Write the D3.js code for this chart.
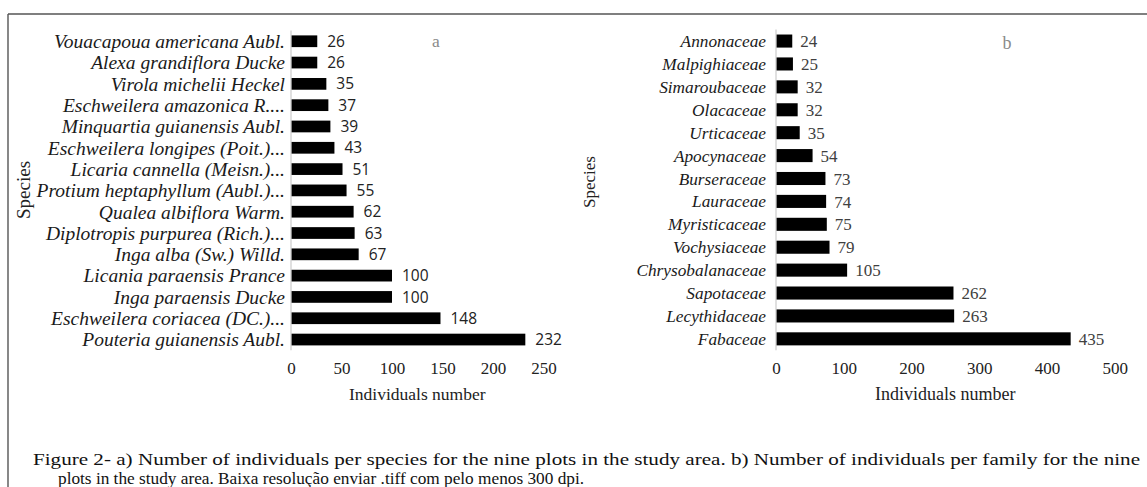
<!DOCTYPE html>
<html><head><meta charset="utf-8">
<script src="https://cdn.jsdelivr.net/npm/d3@7"></script>
<style>html,body{margin:0;padding:0;background:#fff;}svg{display:block;}</style>
</head><body>
<svg id="c" width="1147" height="487"></svg>
<script>
const speciesNames = ["Vouacapoua americana Aubl.","Alexa grandiflora Ducke","Virola michelii Heckel","Eschweilera amazonica R....","Minquartia guianensis Aubl.","Eschweilera longipes (Poit.)...","Licaria cannella (Meisn.)...","Protium heptaphyllum (Aubl.)...","Qualea albiflora Warm.","Diplotropis purpurea (Rich.)...","Inga alba (Sw.) Willd.","Licania paraensis Prance","Inga paraensis Ducke","Eschweilera coriacea (DC.)...","Pouteria guianensis Aubl."];
const speciesValues = [26,26,35,37,39,43,51,55,62,63,67,100,100,148,232];
const speciesTicks = [0,50,100,150,200,250];

const familyNames = ["Annonaceae","Malpighiaceae","Simaroubaceae","Olacaceae","Urticaceae","Apocynaceae","Burseraceae","Lauraceae","Myristicaceae","Vochysiaceae","Chrysobalanaceae","Sapotaceae","Lecythidaceae","Fabaceae"];
const familyValues = [24,25,32,32,35,54,73,74,75,79,105,262,263,435];
const familyTicks = [0,100,200,300,400,500];

const captionLines = ["Figure 2- a) Number of individuals per species for the nine plots in the study area. b) Number of individuals per family for the nine","plots in the study area. Baixa resolução enviar .tiff com pelo menos 300 dpi."];

const svg = d3.select("#c");
const serif = "'Liberation Serif','Times New Roman',serif";

// frame
svg.append("line").attr("x1",8).attr("x2",1147).attr("y1",14).attr("y2",14).attr("stroke","#555").attr("stroke-width",1.6);
svg.append("line").attr("x1",8).attr("x2",8).attr("y1",14).attr("y2",487).attr("stroke","#555").attr("stroke-width",1.4);

function panel(cfg){
  const g = svg.append("g");
  const x = d3.scaleLinear().domain([0, cfg.max]).range([cfg.x0, cfg.x1]);
  const y = d3.scaleBand().domain(cfg.names).range([cfg.y0, cfg.y1]).paddingInner(cfg.pad).paddingOuter(cfg.pad/2);
  const data = cfg.names.map((n,i)=>({n, v: cfg.values[i]}));
  g.selectAll("rect.bar").data(data).join("rect").attr("class","bar")
    .attr("x", x(0)).attr("y", d=>y(d.n)).attr("width", d=>x(d.v)-x(0)).attr("height", y.bandwidth()).attr("fill","#000");
  g.append("line").attr("x1",x(0)).attr("x2",x(0)).attr("y1",cfg.y0).attr("y2",cfg.y1).attr("stroke","#d0d0d0").attr("stroke-width",1.3);
  g.selectAll("text.cat").data(data).join("text").attr("class","cat")
    .attr("x", x(0)-cfg.catGap).attr("y", d=>y(d.n)+y.bandwidth()/2).attr("dy","0.35em")
    .attr("text-anchor","end").attr("font-family",serif).attr("font-style","italic").attr("font-size",cfg.catSize).attr("fill","#1a1a1a")
    .text(d=>d.n);
  g.selectAll("text.val").data(data).join("text").attr("class","val")
    .attr("x", d=>x(d.v)+cfg.valGap).attr("y", d=>y(d.n)+y.bandwidth()/2).attr("dy","0.36em")
    .attr("font-family",cfg.valFont).attr("font-size",cfg.valSize).attr("fill",cfg.valColor)
    .text(d=>d.v);
  const ax = g.append("g").attr("transform",`translate(0,${cfg.tickY})`)
    .call(d3.axisBottom(x).tickValues(cfg.ticks).tickSize(0).tickPadding(0).tickFormat(d3.format("d")));
  ax.select(".domain").remove();
  ax.selectAll("text").attr("font-family",serif).attr("font-size",cfg.tickSize).attr("fill","#222");
  g.append("text").attr("x",(cfg.x0+cfg.x1)/2).attr("y",cfg.titleY).attr("text-anchor","middle")
    .attr("font-family",serif).attr("font-size",cfg.titleSize).attr("fill","#222").text("Individuals number");
  g.append("text").attr("transform",`translate(${cfg.spX},${cfg.spY}) rotate(-90)`).attr("text-anchor","middle")
    .attr("font-family",serif).attr("font-size",cfg.spSize).attr("fill","#222").text("Species");
  g.append("text").attr("x",cfg.letterX).attr("y",cfg.letterY).attr("text-anchor","middle")
    .attr("font-family",serif).attr("font-size",cfg.titleSize).attr("fill","#8a8a8a").text(cfg.letter);
}

panel({names:speciesNames, values:speciesValues, ticks:speciesTicks, max:250, x0:291, x1:543.5, y0:30.6, y1:350.2, pad:0.45,
  catGap:6, catSize:19.5, tickSize:17, titleSize:17.5, spSize:19,
  valGap:10, valFont:"'Open Sans','Liberation Sans',sans-serif", valSize:15.5, valColor:"#222",
  tickY:362, titleY:400, spX:30, spY:190, letter:"a", letterX:436, letterY:47});
panel({names:familyNames, values:familyValues, ticks:familyTicks, max:500, x0:776, x1:1114.7, y0:29.6, y1:350.3, pad:0.43,
  catGap:10, catSize:17.3, tickSize:17, titleSize:18, spSize:17,
  valGap:8, valFont:serif, valSize:17, valColor:"#404040",
  tickY:362, titleY:400, spX:595, spY:182, letter:"b", letterX:1007, letterY:49});

svg.append("text").attr("x",33).attr("y",465).attr("font-family",serif).attr("font-size",17).attr("fill","#111")
  .attr("textLength",1107).attr("lengthAdjust","spacingAndGlyphs").text(captionLines[0]);
svg.append("text").attr("x",58).attr("y",484).attr("font-family",serif).attr("font-size",17).attr("fill","#111")
  .attr("textLength",526).attr("lengthAdjust","spacingAndGlyphs").text(captionLines[1]);
</script>
</body></html>
